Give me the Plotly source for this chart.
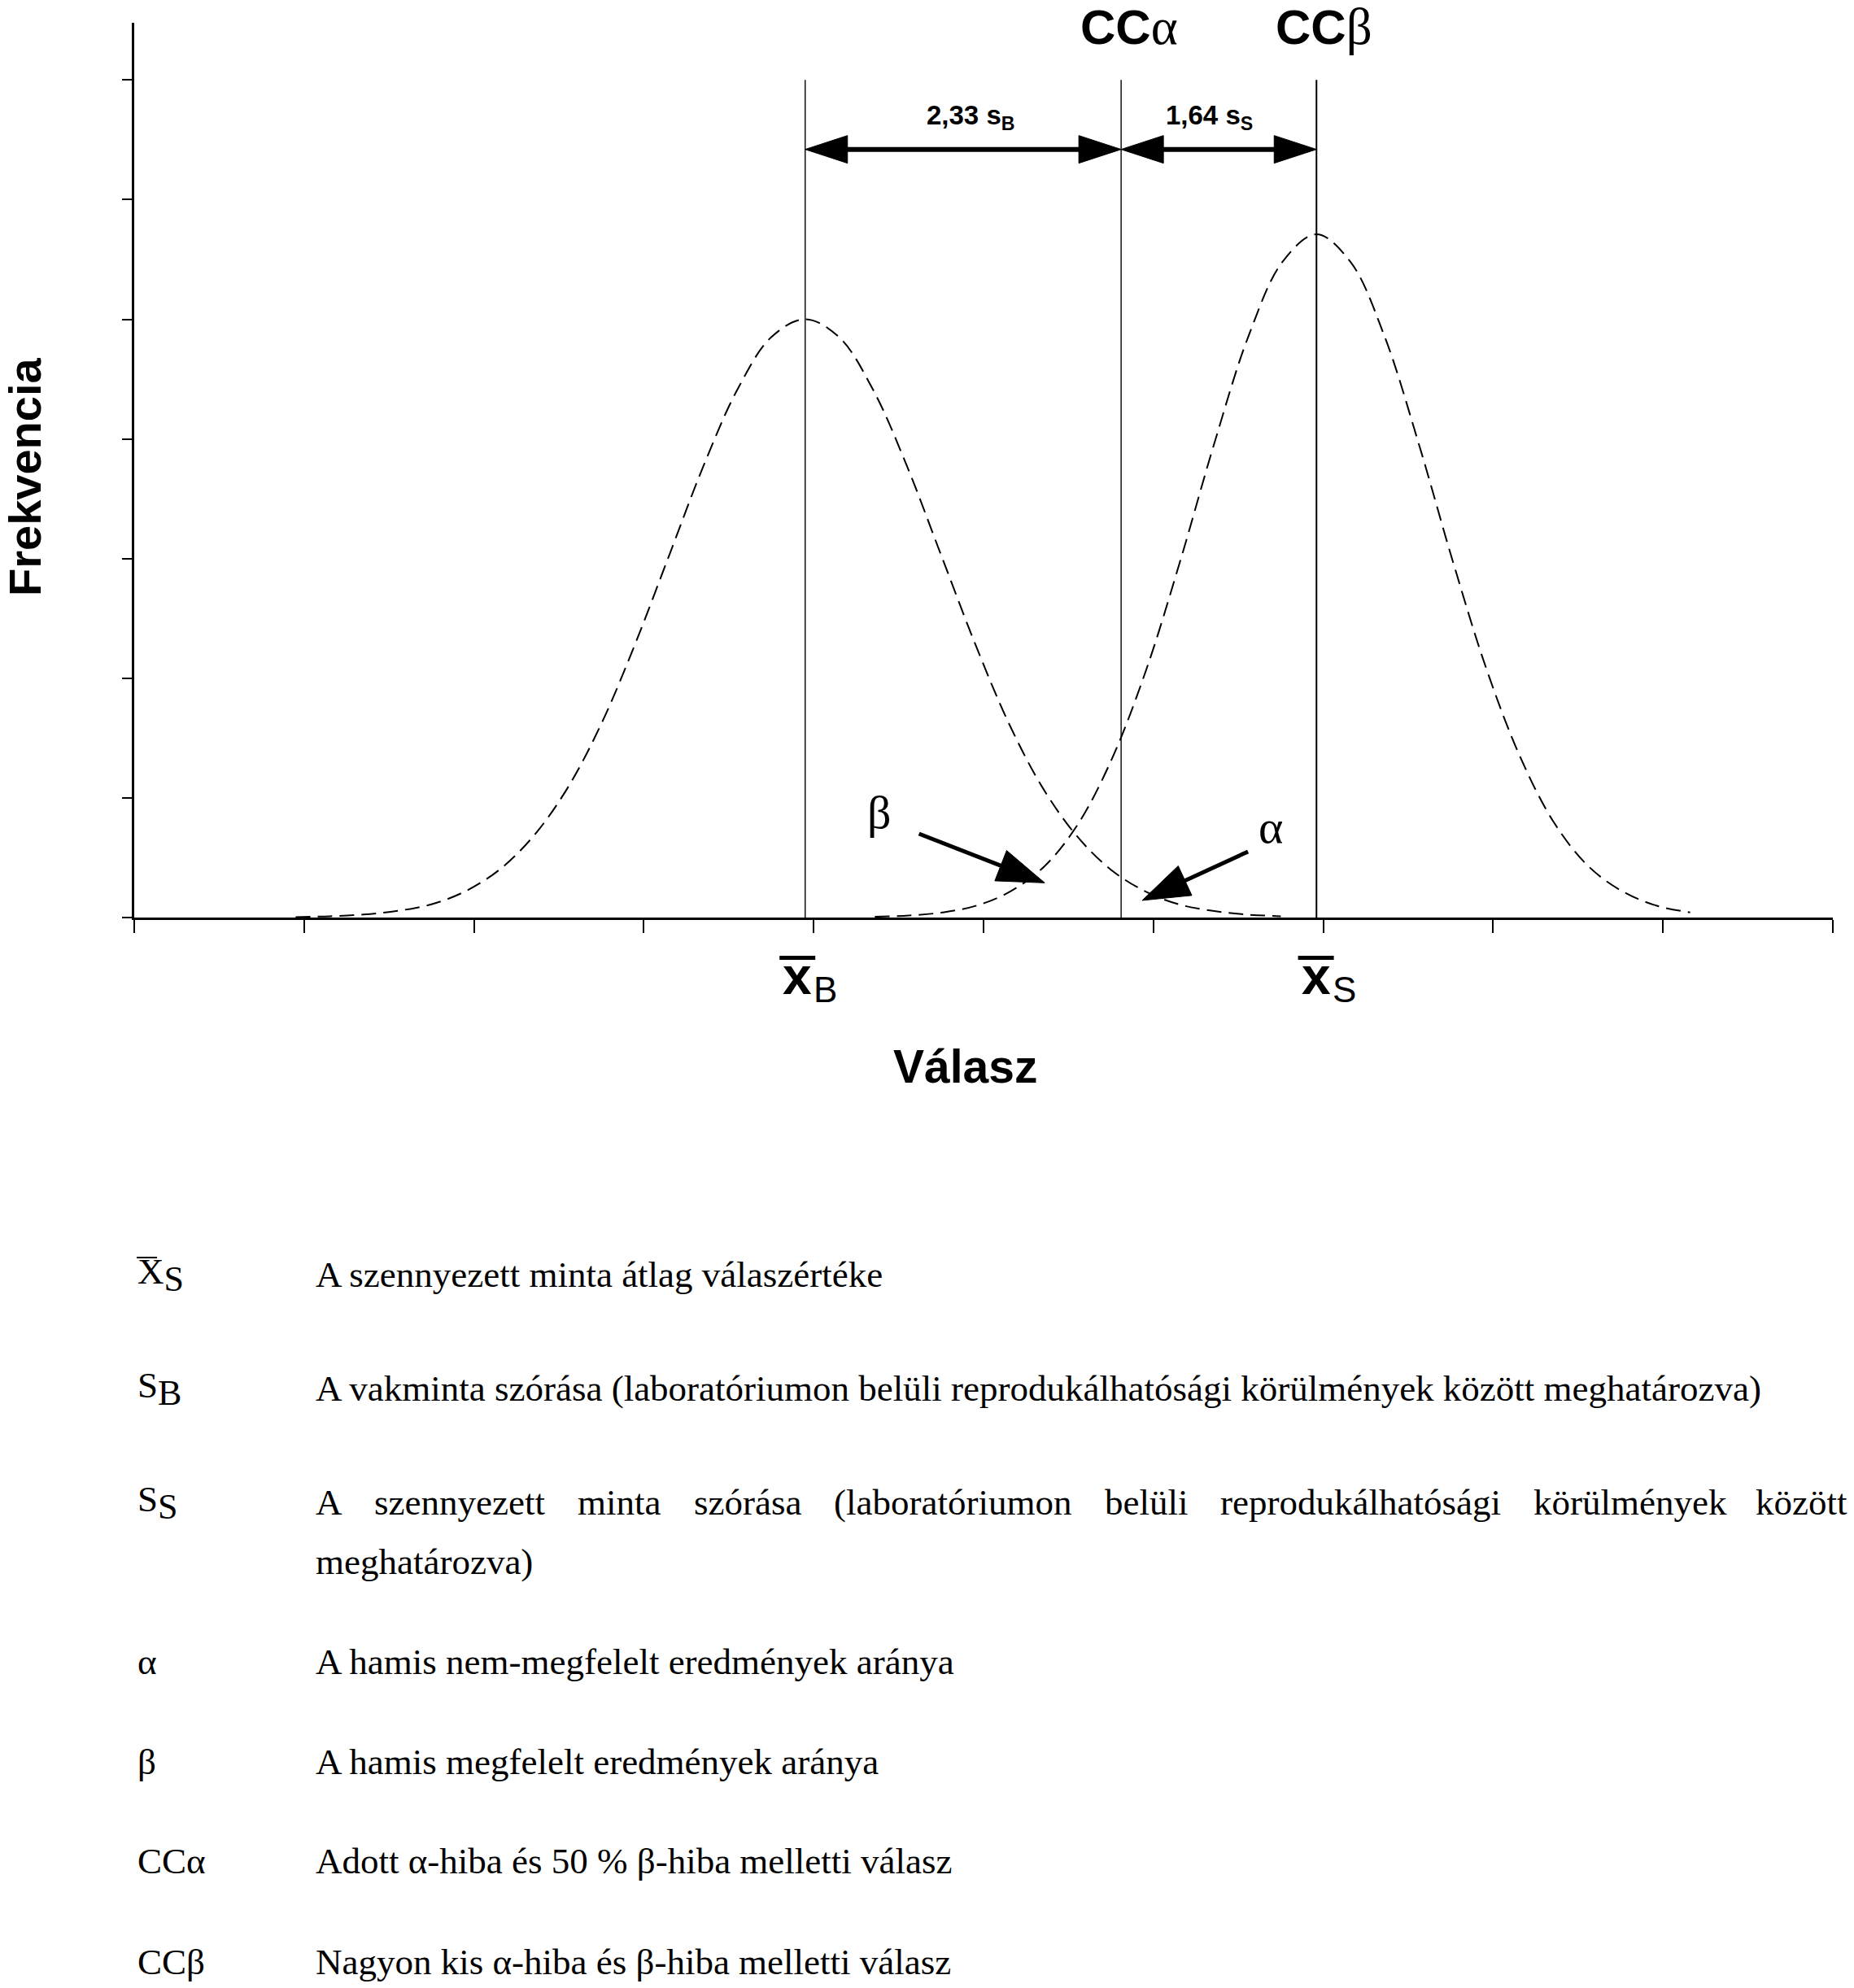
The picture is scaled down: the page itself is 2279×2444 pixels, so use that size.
import math
import plotly.graph_objects as go

# ---------------- data ----------------
curve_B_x = [0.95, 1.15, 1.35, 1.55, 1.75, 1.95, 2.15, 2.35, 2.55, 2.75,
             2.95, 3.15, 3.35, 3.55, 3.75, 3.95, 4.15, 4.35, 4.55, 4.75,
             4.95, 5.15, 5.35, 5.55, 5.75, 5.95, 6.15, 6.35, 6.55, 6.75]
curve_B_y = [0.004, 0.011, 0.025, 0.056, 0.11, 0.22, 0.40, 0.68, 1.08, 1.62,
             2.29, 3.03, 3.77, 4.41, 4.85, 5.00, 4.85, 4.41, 3.77, 3.03,
             2.29, 1.62, 1.08, 0.68, 0.40, 0.22, 0.11, 0.056, 0.025, 0.011]
curve_S_x = [4.36, 4.56, 4.76, 4.96, 5.16, 5.36, 5.56, 5.76, 5.96, 6.16,
             6.36, 6.56, 6.76, 6.96, 7.16, 7.36, 7.56, 7.76, 7.96, 8.16,
             8.36, 8.56, 8.76, 8.96, 9.16]
curve_S_y = [0.006, 0.017, 0.043, 0.10, 0.22, 0.43, 0.79, 1.34, 2.08, 2.99,
             3.97, 4.86, 5.48, 5.71, 5.48, 4.86, 3.97, 2.99, 2.08, 1.34,
             0.79, 0.43, 0.22, 0.10, 0.043]

mean_B = 3.95
cc_alpha = 5.81
cc_beta = 6.96
line_top = 7
arrow_level = 6.42

x_ticks = [0, 1, 2, 3, 4, 5, 6, 7, 8, 9, 10]
y_ticks = [0, 1, 2, 3, 4, 5, 6, 7]
x_label_vals = [4, 7]
x_label_subs = ["B", "S"]

span_labels = ["2,33 s<sub>B</sub>", "1,64 s<sub>S</sub>"]

beta_tail, beta_tip, beta_label = (4.62, 0.70), (5.36, 0.29), (4.387, 0.877)
alpha_tail, alpha_tip, alpha_label = (6.557, 0.551), (5.934, 0.143), (6.691, 0.755)

legend_symbols = ["X<sub>S</sub>", "S<sub>B</sub>", "S<sub>S</sub>", "α", "β", "CCα", "CCβ"]
legend_texts = [
    "A szennyezett minta átlag válaszértéke",
    "A vakminta szórása (laboratóriumon belüli reprodukálhatósági körülmények között meghatározva)",
    None,
    "A hamis nem-megfelelt eredmények aránya",
    "A hamis megfelelt eredmények aránya",
    "Adott α-hiba és 50 % β-hiba melletti válasz",
    "Nagyon kis α-hiba és β-hiba melletti válasz",
]
justified_words = ["A", "szennyezett", "minta", "szórása", "(laboratóriumon",
                   "belüli", "reprodukálhatósági", "körülmények", "között"]
justified_tail = "meghatározva)"

# ---------------- layout geometry ----------------
W, H = 2279, 2444
ML, MR, MT, MB = 165, 26, 28, 1316
PW, PH = W - ML - MR, H - MT - MB
X_RANGE = [0, 10]
Y_RANGE = [0, 7.478]
kx = PW / (X_RANGE[1] - X_RANGE[0])
ky = PH / (Y_RANGE[1] - Y_RANGE[0])

SANS = "Liberation Sans, Arial, sans-serif"
SERIF = "Liberation Serif, Times New Roman, serif"


def px(xp):
    return (xp - ML) / PW


def py(yp):
    return (H - MB - yp) / PH


def head(tip, tail, length, half):
    dx = (tip[0] - tail[0]) * kx
    dy = (tip[1] - tail[1]) * ky
    n = math.hypot(dx, dy)
    ux, uy = dx / n, dy / n
    bx, by = -ux * length, -uy * length
    nx, ny = -uy * half, ux * half
    pts = [(0, 0), (bx + nx, by + ny), (bx - nx, by - ny), (0, 0)]
    xs = [tip[0] + p[0] / kx for p in pts]
    ys = [tip[1] + p[1] / ky for p in pts]
    base = (tip[0] + bx * 0.85 / kx, tip[1] + by * 0.85 / ky)
    return xs, ys, base


fig = go.Figure()
dash = "18px,9px"
fig.add_trace(go.Scatter(x=curve_B_x, y=curve_B_y, mode="lines", line_shape="spline",
                         line=dict(color="black", width=2, dash=dash), hoverinfo="skip"))
fig.add_trace(go.Scatter(x=curve_S_x, y=curve_S_y, mode="lines", line_shape="spline",
                         line=dict(color="black", width=2, dash=dash), hoverinfo="skip"))


def add_arrow(tail, tip, length, half, width, double=False):
    xs, ys, base_end = head(tip, tail, length, half)
    fig.add_trace(go.Scatter(x=xs, y=ys, mode="lines", fill="toself", fillcolor="black",
                             line=dict(color="black", width=1), hoverinfo="skip"))
    start = tail
    if double:
        xs2, ys2, base_start = head(tail, tip, length, half)
        fig.add_trace(go.Scatter(x=xs2, y=ys2, mode="lines", fill="toself", fillcolor="black",
                                 line=dict(color="black", width=1), hoverinfo="skip"))
        start = base_start
    fig.add_trace(go.Scatter(x=[start[0], base_end[0]], y=[start[1], base_end[1]], mode="lines",
                             line=dict(color="black", width=width), hoverinfo="skip"))


add_arrow((mean_B, arrow_level), (cc_alpha, arrow_level), 52, 17, 6, double=True)
add_arrow((cc_alpha, arrow_level), (cc_beta, arrow_level), 52, 17, 6, double=True)
add_arrow(beta_tail, beta_tip, 58, 20, 5)
add_arrow(alpha_tail, alpha_tip, 58, 20, 5)

shapes = []
for v, w in [(mean_B, 1.4), (cc_alpha, 1.4), (cc_beta, 2)]:
    shapes.append(dict(type="line", xref="x", yref="y", x0=v, x1=v, y0=0, y1=line_top,
                       line=dict(color="black", width=w)))

ann = []
# x tick labels (x-bar with subscript)
x_glyph_shift = [-20, -9]
for val, sub, sh in zip(x_label_vals, x_label_subs, x_glyph_shift):
    ann.append(dict(xref="x", yref="paper", x=val, y=py(1200), xshift=sh, text="<b>x</b>",
                    showarrow=False, xanchor="center", yanchor="middle",
                    font=dict(family=SANS, size=64, color="black")))
    ann.append(dict(xref="x", yref="paper", x=val, y=py(1216), xshift=sh + 18, text=sub,
                    showarrow=False, xanchor="left", yanchor="middle",
                    font=dict(family=SANS, size=44, color="black")))
    shapes.append(dict(type="line", xref="x", xsizemode="pixel", xanchor=val,
                       x0=sh - 22, x1=sh + 22, yref="paper", y0=py(1177.5), y1=py(1177.5),
                       line=dict(color="black", width=5)))

# axis titles
ann.append(dict(xref="paper", yref="paper", x=px(1186), y=py(1311), text="<b>Válasz</b>",
                showarrow=False, xanchor="center", yanchor="middle",
                font=dict(family=SANS, size=57, color="black")))
ann.append(dict(xref="paper", yref="paper", x=px(30), y=py(587), text="<b>Frekvencia</b>",
                textangle=-90, showarrow=False, xanchor="center", yanchor="middle",
                font=dict(family=SANS, size=56, color="black")))

# CC labels on top
for v, g, sh in [(cc_alpha, "α", 10), (cc_beta, "β", 9)]:
    ann.append(dict(xref="x", yref="paper", x=v, y=py(33), xshift=sh,
                    text="<b>CC</b><span style='font-family:Liberation Serif, serif;font-size:63px'>" + g + "</span>",
                    showarrow=False, xanchor="center", yanchor="middle",
                    font=dict(family=SANS, size=60, color="black")))

# span labels
mids = [(mean_B + cc_alpha) / 2, (cc_alpha + cc_beta) / 2]
for m, t, sh in zip(mids, span_labels, [9, -12]):
    ann.append(dict(xref="x", yref="paper", x=m, y=py(143.6), xshift=sh, text="<b>" + t + "</b>",
                    showarrow=False, xanchor="center", yanchor="middle",
                    font=dict(family=SANS, size=33, color="black")))

# alpha / beta labels
for (lx, ly), g in [(beta_label, "β"), (alpha_label, "α")]:
    ann.append(dict(xref="x", yref="y", x=lx, y=ly, text=g, showarrow=False,
                    xanchor="center", yanchor="middle",
                    font=dict(family=SERIF, size=58, color="black")))

# legend block
row_centers = [1567, 1707, 1847, 2043, 2166, 2288, 2412]
sym_x, txt_x = 167, 386
for sym, txt, yc in zip(legend_symbols, legend_texts, row_centers):
    s = sym.replace("<sub>", "<sub><span style='font-size:44px'>").replace("</sub>", "</span></sub>")
    ann.append(dict(xref="paper", yref="paper", x=px(sym_x), y=py(yc), text=s,
                    showarrow=False, xanchor="left", yanchor="middle",
                    font=dict(family=SERIF, size=45, color="black")))
    if txt is not None:
        ann.append(dict(xref="paper", yref="paper", x=px(txt_x), y=py(yc), text=txt,
                        showarrow=False, xanchor="left", yanchor="middle",
                        font=dict(family=SERIF, size=45, color="black")))
# overline for X-bar in legend
shapes.append(dict(type="line", xref="paper", yref="paper", x0=px(168), x1=px(193),
                   y0=py(1546), y1=py(1546), line=dict(color="black", width=2)))

# justified row
word_left = [386, 458, 708, 851, 1023, 1356, 1498, 1883]
for wtxt, wx in zip(justified_words[:-1], word_left):
    ann.append(dict(xref="paper", yref="paper", x=px(wx), y=py(1847), text=wtxt,
                    showarrow=False, xanchor="left", yanchor="middle",
                    font=dict(family=SERIF, size=45, color="black")))
ann.append(dict(xref="paper", yref="paper", x=px(2273), y=py(1847), text=justified_words[-1],
                showarrow=False, xanchor="right", yanchor="middle",
                font=dict(family=SERIF, size=45, color="black")))
ann.append(dict(xref="paper", yref="paper", x=px(txt_x), y=py(1920), text=justified_tail,
                showarrow=False, xanchor="left", yanchor="middle",
                font=dict(family=SERIF, size=45, color="black")))

fig.update_layout(
    width=W, height=H, margin=dict(l=ML, r=MR, t=MT, b=MB, pad=0),
    paper_bgcolor="white", plot_bgcolor="white", showlegend=False,
    shapes=shapes, annotations=ann,
    xaxis=dict(range=X_RANGE, tickvals=x_ticks, showticklabels=False, ticks="outside",
               ticklen=16, tickwidth=2, tickcolor="black", showline=True, linewidth=3,
               linecolor="black", showgrid=False, zeroline=False, fixedrange=True),
    yaxis=dict(range=Y_RANGE, tickvals=y_ticks, showticklabels=False, ticks="outside",
               ticklen=12, tickwidth=2, tickcolor="black", showline=True, linewidth=3,
               linecolor="black", showgrid=False, zeroline=False, fixedrange=True),
)

fig.write_html("out.html", config={"displayModeBar": False},
               post_script="document.body.style.margin='0';document.body.style.overflow='hidden';")
